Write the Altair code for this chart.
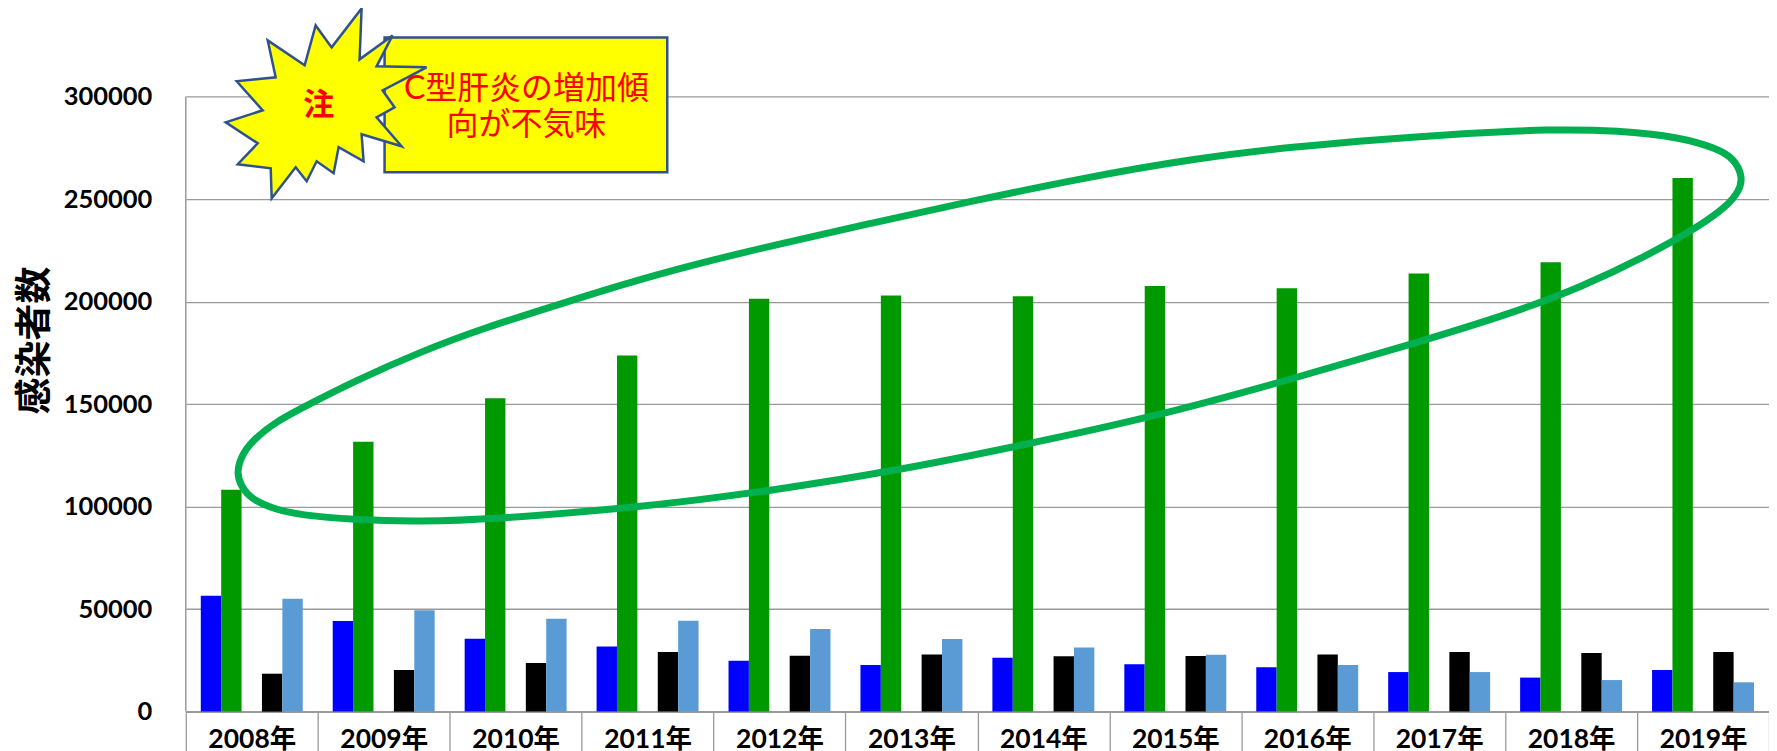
import altair as alt
import pandas as pd

years = ["2008年","2009年","2010年","2011年","2012年","2013年","2014年","2015年","2016年","2017年","2018年","2019年"]
series_names = ["A", "B", "gap", "C", "D"]
series_a = [56500,44200,35600,31800,24800,22700,26300,23100,21600,19300,16600,20300]
series_b = [108300,131700,152900,173700,201400,203000,202600,207600,206600,213800,219300,260400]
series_c = [18500,20300,23700,29100,27300,27900,27000,27100,27900,29100,28600,29100]
series_d = [55100,49400,45300,44300,40300,35400,31300,27800,22700,19300,15400,14300]
colors = ["#0000FF", "#009900", "#FFFFFF", "#000000", "#5B9BD5"]
y_ticks = [0,50000,100000,150000,200000,250000,300000]

# hand-read outline of the green ring, in picture pixels
ring_x = [237,241,252,277,308,353,420,487,567,637,720,776,872,968,1083,1197,1300,1383,1470,1550,1620,1683,1718,1736,1745,1741,1729,1700,1650,1583,1517,1417,1290,1155,1025,891,769,700,620,497,420,353,300,277,252,241]
ring_y = [473,457,441,421,405,382,352,327,302,280,258,245,223,202,178,158,146,139,133,129,130,137,148,158,177,191,206,227,255,287,312,343,380,417,445,472,491,500,509,519,522,520,515,510,500,486]

star_x = [362,360,393,377,427,383,395,377,402,362,364,339,334,317,307,296,272,271,238,258,226,263,237,276,268,305,316,332]
star_y = [8,59,35,66,67,90,107,117,146,134,161,147,173,161,181,167,198,168,164,143,122,110,81,77,40,65,25,47]
star_center = (320, 100)

box = dict(x=385, x2=668, y=37, y2=172)
notes = [
    dict(t="C型肝炎の増加傾", x=527, y=89),
    dict(t="向が不気味", x=527, y=125),
]
burst_note = dict(t="注", x=319, y=106)

rows = []
for i, yr in enumerate(years):
    rows += [dict(year=yr, s="A", v=series_a[i]), dict(year=yr, s="B", v=series_b[i]),
             dict(year=yr, s="C", v=series_c[i]), dict(year=yr, s="D", v=series_d[i])]
df = pd.DataFrame(rows)

W, H = 1585, 704
LABEL_FONT = "Lato, 'Noto Sans CJK JP'"
CJK = "'Noto Sans CJK JP'"
GRAY = "#9A9A9A"

yscale = alt.Scale(domain=[0, 343080], nice=False, zero=False)
px_x = alt.Scale(domain=[186, 1771], nice=False, zero=False)
px_y = alt.Scale(domain=[712, 8], nice=False, zero=False)

bars = alt.Chart(df).mark_bar(size=20.4).encode(
    x=alt.X("year:N", sort=years, title=None,
            scale=alt.Scale(paddingInner=0, paddingOuter=0),
            axis=alt.Axis(labelAngle=0, labelFont=LABEL_FONT, labelFontSize=26.5, labelFontWeight="bold",
                          labelColor="#000000", labelPadding=-24, tickBand="extent", ticks=True,
                          tickSize=39, tickColor=GRAY, tickWidth=1.3, domainColor=GRAY, domainWidth=2)),
    xOffset=alt.XOffset("s:N", scale=alt.Scale(domain=series_names, paddingInner=0, paddingOuter=0.735)),
    y=alt.Y("v:Q", scale=yscale, title="感染者数",
            axis=alt.Axis(values=y_ticks, format="d", grid=True, gridColor=GRAY, gridWidth=1.3, domain=False, ticks=False,
                          labelFont=LABEL_FONT, labelFontSize=25.5, labelFontWeight="bold", labelColor="#000000",
                          labelPadding=34, titleFont=CJK, titleFontSize=37, titleFontWeight="bold",
                          titleColor="#000000", titleX=-150, titleY=332, titleAngle=270,
                          titleAlign="center", titleBaseline="middle")),
    color=alt.Color("s:N", scale=alt.Scale(domain=series_names, range=colors), legend=None),
)

axis_line = alt.Chart(pd.DataFrame({"a": [0], "b": [300000]})).mark_rule(color=GRAY, strokeWidth=1.5).encode(
    x=alt.value(0),
    y=alt.Y("a:Q", scale=yscale, axis=None),
    y2="b:Q",
)

box_layer = alt.Chart(pd.DataFrame([box])).mark_rect(fill="#FFFF00", stroke="#2F528F", strokeWidth=2.5).encode(
    x=alt.X("x:Q", scale=px_x, axis=None),
    x2="x2:Q",
    y=alt.Y("y:Q", scale=px_y, axis=None),
    y2="y2:Q",
)

cx, cy = star_center
path = "M" + "L".join(f"{x-cx},{y-cy}" for x, y in zip(star_x, star_y)) + "Z"
star_layer = alt.Chart(pd.DataFrame({"x": [cx], "y": [cy]})).mark_point(
    shape=path, size=4, filled=True, fill="#FFFF00", stroke="#2F528F", strokeWidth=2.5, opacity=1
).encode(
    x=alt.X("x:Q", scale=px_x, axis=None),
    y=alt.Y("y:Q", scale=px_y, axis=None),
)

def text_layer(rows, weight, size):
    return alt.Chart(pd.DataFrame(rows)).mark_text(
        font=LABEL_FONT, fontSize=size, fontWeight=weight, color="#FF0000", align="center", baseline="middle"
    ).encode(
        x=alt.X("x:Q", scale=px_x, axis=None),
        y=alt.Y("y:Q", scale=px_y, axis=None),
        text="t:N",
    )

note_layer = text_layer(notes, "normal", 32)
burst_layer = text_layer([burst_note], "bold", 31)

ring = alt.Chart(pd.DataFrame({"x": ring_x, "y": ring_y, "i": range(len(ring_x))})).mark_line(
    color="#00B050", strokeWidth=7, interpolate="basis-closed"
).encode(
    x=alt.X("x:Q", scale=px_x, axis=None),
    y=alt.Y("y:Q", scale=px_y, axis=None),
    order=alt.Order("i:Q"),
)

chart = alt.layer(bars, axis_line, ring, box_layer, star_layer, note_layer, burst_layer).resolve_scale(
    x="independent", y="independent"
).properties(
    width=W, height=H,
    autosize=alt.AutoSizeParams(type="none"),
    padding={"left": 178, "top": 0, "right": 0, "bottom": 39},
).configure_view(stroke=None)

chart.save("out.html", embed_options={"renderer": "svg", "actions": False})
